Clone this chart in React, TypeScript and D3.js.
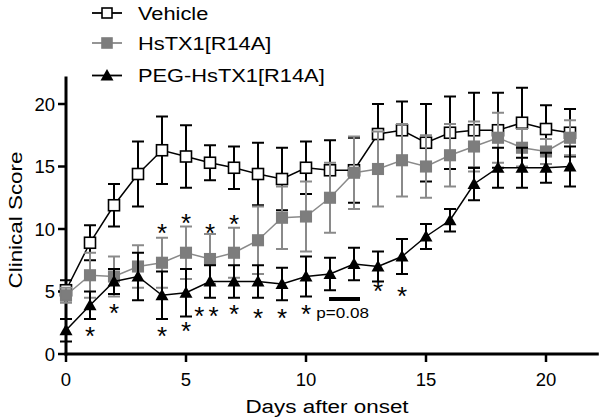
import React from "react";
import * as d3 from "d3";

const days = [0,1,2,3,4,5,6,7,8,9,10,11,12,13,14,15,16,17,18,19,20,21];
const vehicleMean = [5.1, 8.9, 11.9, 14.4, 16.3, 15.8, 15.3, 14.9, 14.4, 14.0, 14.9, 14.7, 14.7, 17.6, 17.9, 16.9, 17.7, 17.9, 17.9, 18.5, 18.0, 17.7];
const vehicleSem = [0.8, 1.4, 1.7, 2.6, 2.7, 2.5, 1.4, 1.7, 2.5, 2.5, 2.1, 2.4, 2.6, 2.4, 2.3, 3.1, 2.9, 3.0, 3.0, 2.8, 1.9, 1.9];
const hsMean = [4.7, 6.3, 6.2, 7.0, 7.3, 8.1, 7.6, 8.1, 9.1, 10.9, 11.0, 12.5, 14.5, 14.8, 15.5, 15.0, 15.9, 16.6, 17.3, 16.5, 16.2, 17.3];
const hsSem = [0.6, 1.8, 1.6, 1.7, 2.0, 2.1, 2.0, 2.0, 2.7, 2.5, 2.8, 2.8, 2.9, 3.0, 2.9, 2.5, 2.5, 2.0, 2.0, 1.5, 1.0, 1.4];
const pegMean = [1.9, 3.9, 5.8, 6.2, 4.7, 4.9, 5.8, 5.8, 5.8, 5.6, 6.2, 6.4, 7.2, 7.0, 7.8, 9.4, 10.7, 13.6, 14.9, 14.9, 14.9, 15.0];
const pegSem = [0.9, 1.1, 1.0, 1.9, 1.9, 1.9, 1.3, 1.3, 1.3, 1.3, 1.6, 1.3, 1.3, 1.2, 1.4, 1.0, 0.9, 1.3, 1.6, 1.6, 1.2, 1.6];

const hsStarDays = [4, 5, 6, 7];
const hsStarY = [10.2, 11.0, 10.2, 10.9];
const pegStarDays = [1, 2, 4, 5, 5.55, 6.15, 7, 8, 9, 10, 13, 14];
const pegStarY = [1.9, 3.8, 1.9, 2.3, 3.5, 3.5, 3.7, 3.4, 3.4, 3.7, 5.5, 5.1];
const pBar = [10.96, 12.25];
const pBarY = 4.4;
const pLabel = "p=0.08";
const pLabelY = 2.8;

const xTicks = [0, 5, 10, 15, 20];
const yTicks = [0, 5, 10, 15, 20];
const seriesNames = ["Vehicle", "HsTX1[R14A]", "PEG-HsTX1[R14A]"];
const xTitle = "Days after onset";
const yTitle = "Clinical Score";

const FONT = "'Liberation Sans', Arial, sans-serif";
const GREY = "#8a8a8a";
const GREY_FILL = "#7d7d7d";

export default function App() {
  const x = d3.scaleLinear().domain([0, 22.2]).range([66, 598.8]);
  const y = d3.scaleLinear().domain([0, 22.2]).range([354, 76.5]);
  const line = d3.line<number>().x((_, i) => x(days[i])).y((d) => y(d));

  const errorBars = (mean: number[], sem: number[], color: string, key: string) =>
    mean.map((m, i) => {
      const cx = x(days[i]);
      const t = y(m + sem[i]);
      const b = y(m - sem[i]);
      return (
        <g key={key + i} stroke={color} strokeWidth={2}>
          <line x1={cx} x2={cx} y1={t} y2={b} />
          <line x1={cx - 6} x2={cx + 6} y1={t} y2={t} />
          <line x1={cx - 6} x2={cx + 6} y1={b} y2={b} />
        </g>
      );
    });

  const square = (cx: number, cy: number, s: number, fill: string, stroke: string, k: string) => (
    <rect key={k} x={cx - s / 2} y={cy - s / 2} width={s} height={s} fill={fill} stroke={stroke} strokeWidth={1.6} />
  );
  const tri = (cx: number, cy: number, k: string) => (
    <path key={k} d={`M${cx},${cy - 6.5} L${cx + 6.5},${cy + 5} L${cx - 6.5},${cy + 5} Z`} fill="#000" />
  );

  const star = (d: number, v: number, k: string) => (
    <text key={k} x={x(d)} y={y(v) + 15} textAnchor="middle" fontSize={26} fontFamily={FONT} fill="#000">*</text>
  );

  const stretched = (tx: number, ty: number, content: string, size: number, anchor: string, rotate = 0, k?: string) => (
    <g key={k} transform={`translate(${tx},${ty}) rotate(${rotate}) scale(1.18,1)`}>
      <text x={0} y={0} textAnchor={anchor} fontSize={size} fontFamily={FONT} fill="#000">{content}</text>
    </g>
  );

  const legendRows = [13, 43, 75.5];

  return (
    <svg width={600} height={420} style={{ position: "absolute", left: 0, top: 0, background: "#fff" }}>
      <rect width={600} height={420} fill="#fff" />
      {/* axes */}
      <line x1={x(0)} x2={x(0)} y1={y(22.2)} y2={y(0) + 1.5} stroke="#000" strokeWidth={3} />
      <line x1={x(0) - 1.5} x2={x(22.2)} y1={y(0)} y2={y(0)} stroke="#000" strokeWidth={3} />
      {yTicks.map((t) => (
        <g key={"yt" + t}>
          <line x1={x(0) - 8} x2={x(0)} y1={y(t)} y2={y(t)} stroke="#000" strokeWidth={2.5} />
          <text x={x(0) - 11} y={y(t) + 6.5} textAnchor="end" fontSize={18.5} fontFamily={FONT} fill="#000">{t}</text>
        </g>
      ))}
      {xTicks.map((t) => (
        <g key={"xt" + t}>
          <line x1={x(t)} x2={x(t)} y1={y(0)} y2={y(0) + 8} stroke="#000" strokeWidth={2.5} />
          <text x={x(t)} y={386} textAnchor="middle" fontSize={18.5} fontFamily={FONT} fill="#000">{t}</text>
        </g>
      ))}
      {stretched(327, 413, xTitle, 19, "middle")}
      {stretched(22, 220, yTitle, 19, "middle", -90)}

      {/* Vehicle */}
      {errorBars(vehicleMean, vehicleSem, "#000", "ve")}
      <path d={line(vehicleMean) || ""} fill="none" stroke="#000" strokeWidth={1.5} />
      {vehicleMean.map((m, i) => square(x(days[i]), y(m), 11, "#fff", "#000", "vs" + i))}

      {/* HsTX1 */}
      {errorBars(hsMean, hsSem, GREY, "he")}
      <path d={line(hsMean) || ""} fill="none" stroke={GREY} strokeWidth={1.5} />
      {hsMean.map((m, i) => square(x(days[i]), y(m), 10.5, GREY_FILL, GREY_FILL, "hs" + i))}

      {/* PEG */}
      {errorBars(pegMean, pegSem, "#000", "pe")}
      <path d={line(pegMean) || ""} fill="none" stroke="#000" strokeWidth={1.5} />
      {pegMean.map((m, i) => tri(x(days[i]), y(m), "pt" + i))}

      {/* significance */}
      {hsStarDays.map((d, i) => star(d, hsStarY[i], "hst" + i))}
      {pegStarDays.map((d, i) => star(d, pegStarY[i], "pst" + i))}
      <line x1={x(pBar[0])} x2={x(pBar[1])} y1={y(pBarY)} y2={y(pBarY)} stroke="#000" strokeWidth={4} />
      {stretched(x((pBar[0] + pBar[1]) / 2) - 2, y(pLabelY) - 1, pLabel, 14.5, "middle")}

      {/* legend */}
      {legendRows.map((ry, i) => (
        <g key={"lg" + i}>
          <line x1={92} x2={122} y1={ry} y2={ry} stroke={i === 1 ? GREY : "#000"} strokeWidth={1.8} />
          {i === 0 && square(107, ry, 10, "#fff", "#000", "l0")}
          {i === 1 && square(107, ry, 10, GREY_FILL, GREY_FILL, "l1")}
          {i === 2 && tri(107, ry, "l2")}
          {stretched(138, ry + 6.5, seriesNames[i], 18.5, "start")}
        </g>
      ))}
    </svg>
  );
}
